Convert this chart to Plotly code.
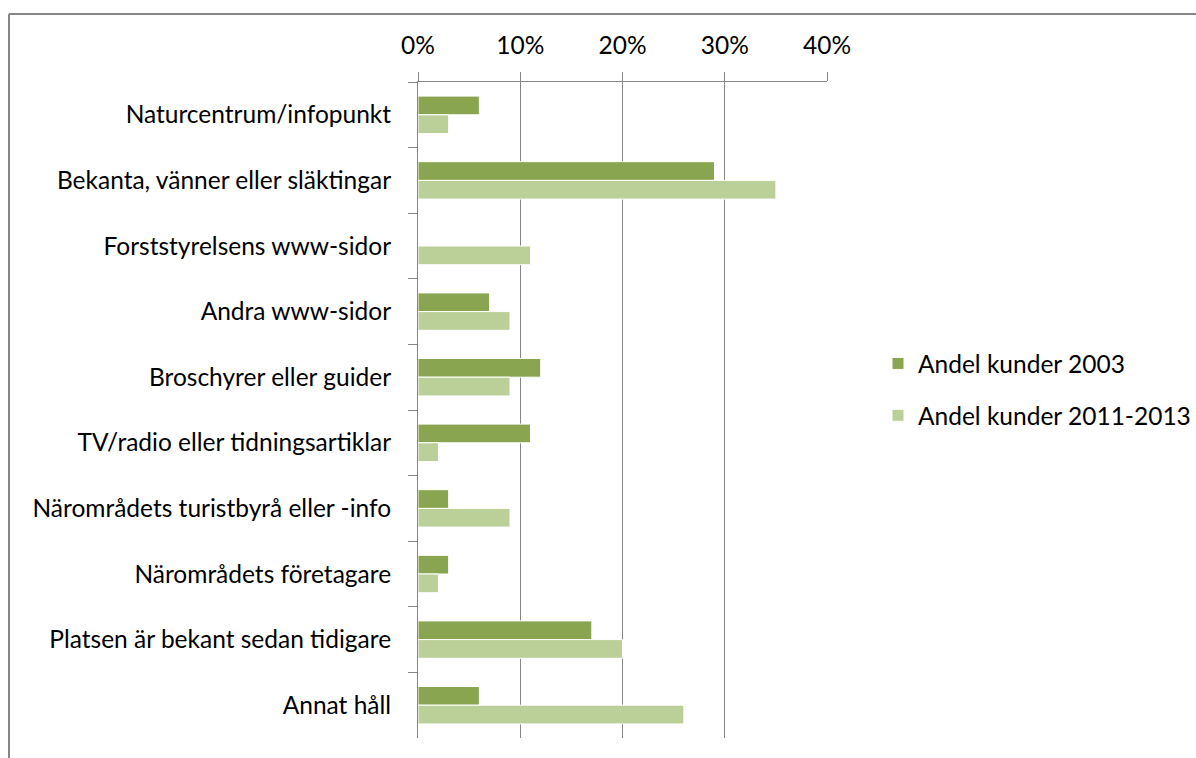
import plotly.graph_objects as go

categories = [
    "Naturcentrum/infopunkt",
    "Bekanta, vänner eller släktingar",
    "Forststyrelsens www-sidor",
    "Andra www-sidor",
    "Broschyrer eller guider",
    "TV/radio eller tidningsartiklar",
    "Närområdets turistbyrå eller -info",
    "Närområdets företagare",
    "Platsen är bekant sedan tidigare",
    "Annat håll",
]
andel_2003 = [0.06, 0.29, 0.0, 0.07, 0.12, 0.11, 0.03, 0.03, 0.17, 0.06]
andel_2011_2013 = [0.03, 0.35, 0.11, 0.09, 0.09, 0.02, 0.09, 0.02, 0.20, 0.26]
series_names = ["Andel kunder 2003", "Andel kunder 2011-2013"]
x_ticks = [0, 0.1, 0.2, 0.3, 0.4]
x_ticktext = ["0%", "10%", "20%", "30%", "40%"]

FONT = "Lato"
GRAY = "#868686"
FS = 24.5

fig = go.Figure()
fig.add_trace(go.Bar(
    y=categories, x=andel_2003, orientation="h", name=series_names[0],
    legendgroup="a", marker=dict(color="#8AA54F", line=dict(color="white", width=1)),
))
fig.add_trace(go.Bar(
    y=categories, x=andel_2011_2013, orientation="h", name=series_names[1],
    legendgroup="b", marker=dict(color="#BBCF98", line=dict(color="white", width=1)),
))

L, R, T, B = 418, 369, 82, 20
W, H = 1196, 758
pw, ph = W - L - R, H - T - B

def px(xp):
    return (xp - L) / pw

def py(yp):
    return (H - B - yp) / ph

fig.update_layout(
    width=W, height=H,
    margin=dict(l=L, r=R, t=T, b=B, pad=0, autoexpand=False),
    paper_bgcolor="white", plot_bgcolor="white",
    barmode="group", bargap=0.43, bargroupgap=0.0,
    font=dict(family=FONT, size=FS, color="#000000"),
    showlegend=True,
    legend=dict(
        x=px(878), y=py(341), xanchor="left", yanchor="top",
        xref="paper", yref="paper",
        font=dict(family=FONT, size=FS, color="#000000"),
        tracegroupgap=17, traceorder="grouped",
        itemwidth=30, bgcolor="rgba(0,0,0,0)",
    ),
    xaxis=dict(
        side="top", range=[0, 0.4], tickvals=x_ticks, ticktext=x_ticktext,
        showgrid=True, gridcolor=GRAY, gridwidth=1,
        showline=True, linecolor=GRAY, linewidth=1, automargin=False,
        ticks="outside", ticklen=9, tickcolor=GRAY, ticklabelstandoff=8,
        tickfont=dict(family=FONT, size=FS), zeroline=False, fixedrange=True,
    ),
    yaxis=dict(
        autorange="reversed", showline=True, linecolor=GRAY, linewidth=1,
        ticks="outside", ticklen=9, tickcolor=GRAY, tickson="boundaries",
        ticklabelstandoff=21, automargin=False,
        showgrid=False, tickfont=dict(family=FONT, size=FS), fixedrange=True,
    ),
    shapes=[
        dict(type="line", xref="paper", yref="paper", x0=px(9), x1=px(W + 5),
             y0=py(14), y1=py(14), line=dict(color=GRAY, width=2)),
        dict(type="line", xref="paper", yref="paper", x0=px(9), x1=px(9),
             y0=py(14), y1=py(H + 5), line=dict(color=GRAY, width=2)),
    ],
)

fig.write_html("out.html")
